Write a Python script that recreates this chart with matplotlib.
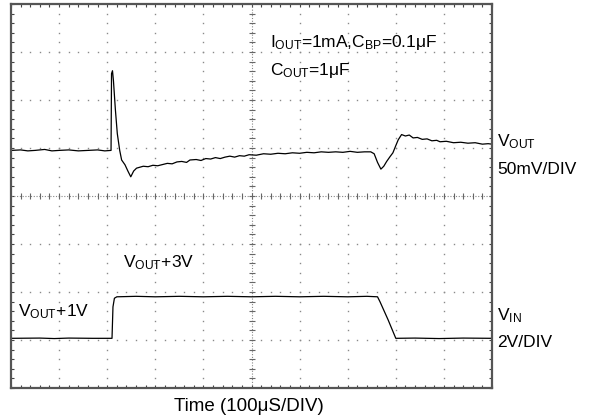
import numpy as np
import matplotlib
matplotlib.use("Agg")
import matplotlib.pyplot as plt
from matplotlib.ticker import MultipleLocator

plt.rcParams['font.family'] = ['Liberation Sans', 'DejaVu Sans']
plt.rcParams['mathtext.fontset'] = 'custom'
plt.rcParams['mathtext.rm'] = 'Liberation Sans'
plt.rcParams['mathtext.it'] = 'Liberation Sans:italic'
plt.rcParams['mathtext.bf'] = 'Liberation Sans:bold'

# ---- data (time in divisions, level in divisions from bottom of screen) ----
vout_t = [0.00, 0.20, 0.35, 0.50, 0.70, 0.85, 1.00, 1.20, 1.40, 1.60, 1.80, 1.95,
          2.08, 2.09, 2.11, 2.13, 2.17, 2.21, 2.26, 2.30, 2.37, 2.43, 2.49, 2.55,
          2.61, 2.68, 2.75, 2.85, 2.95, 3.05, 3.13, 3.25, 3.35, 3.45, 3.55, 3.65,
          3.72, 3.85, 3.95, 4.05, 4.15, 4.25, 4.35, 4.45, 4.55, 4.65, 4.75, 4.85,
          4.95, 5.10, 5.25, 5.40, 5.55, 5.70, 5.85, 6.00, 6.15, 6.30, 6.45, 6.60,
          6.75, 6.90, 7.05, 7.20, 7.35, 7.48, 7.55, 7.62, 7.69, 7.75, 7.81, 7.88,
          7.94, 8.00, 8.05, 8.12, 8.20, 8.28, 8.36, 8.45, 8.55, 8.65, 8.75, 8.85,
          8.92, 9.05, 9.20, 9.35, 9.50, 9.65, 9.80, 9.92, 10.00]
vout_v = [4.95, 4.96, 4.94, 4.95, 4.97, 4.94, 4.95, 4.96, 4.94, 4.95, 4.96, 4.94,
          4.95, 6.55, 6.61, 6.40, 5.80, 5.30, 4.95, 4.75, 4.65, 4.52, 4.40, 4.52,
          4.58, 4.60, 4.62, 4.61, 4.64, 4.63, 4.65, 4.68, 4.67, 4.71, 4.72, 4.70,
          4.75, 4.76, 4.74, 4.78, 4.77, 4.80, 4.78, 4.81, 4.83, 4.81, 4.84, 4.83,
          4.86, 4.85, 4.88, 4.87, 4.89, 4.88, 4.90, 4.89, 4.91, 4.90, 4.92, 4.91,
          4.92, 4.91, 4.93, 4.91, 4.92, 4.92, 4.88, 4.70, 4.56, 4.62, 4.72, 4.82,
          4.90, 5.05, 5.17, 5.28, 5.25, 5.27, 5.21, 5.22, 5.18, 5.19, 5.15, 5.16,
          5.13, 5.14, 5.11, 5.12, 5.10, 5.11, 5.08, 5.09, 5.08]

vin_t = [0.00, 0.60, 0.90, 1.20, 1.70, 2.10, 2.12, 2.15, 2.20, 2.60, 3.00, 3.50,
         4.00, 4.50, 5.00, 5.50, 6.00, 6.50, 7.00, 7.40, 7.62, 7.67, 7.84, 8.00,
         8.40, 8.90, 9.40, 10.00]
vin_v = [1.035, 1.040, 1.030, 1.040, 1.035, 1.035, 1.69, 1.87, 1.90, 1.91, 1.90, 1.91,
         1.90, 1.91, 1.90, 1.91, 1.90, 1.91, 1.90, 1.91, 1.90, 1.80, 1.42, 1.035,
         1.040, 1.030, 1.040, 1.035]

W, H = 590, 419
fig = plt.figure(figsize=(W / 100, H / 100), dpi=100)
L, R, T, B = 11, 492, 4, 388
ax = fig.add_axes([L / W, 1 - B / H, (R - L) / W, (B - T) / H])
ax.set_xlim(0, 10)
ax.set_ylim(0, 8)

# frame & ticks
for s in ax.spines.values():
    s.set_color('#555555')
    s.set_linewidth(1.6)
ax.xaxis.set_major_locator(MultipleLocator(1))
ax.xaxis.set_minor_locator(MultipleLocator(0.2))
ax.yaxis.set_major_locator(MultipleLocator(1))
ax.yaxis.set_minor_locator(MultipleLocator(0.2))
ax.tick_params(which='both', direction='in', top=True, right=True,
               labelbottom=False, labelleft=False, length=2.5, width=0.8,
               color='#444444')

# dotted graticule
gc = '#8a8a8a'
pts_y = np.arange(0.2, 8.0, 0.2)
pts_x = np.arange(0.2, 10.0, 0.2)
for k in range(1, 10):
    if k == 5:
        continue
    ax.plot(np.full(len(pts_y), k), pts_y, ls='none', marker='s', ms=1.0,
            mew=0, color=gc)
for k in range(1, 8):
    if k == 4:
        continue
    ax.plot(pts_x, np.full(len(pts_x), k), ls='none', marker='s', ms=1.0,
            mew=0, color=gc)
# centre cross-hair
ax.plot([5, 5], [0, 8], ls=(0, (1, 1.5)), lw=0.8, color='#888888')
ax.plot([0, 10], [4, 4], ls=(0, (1, 1.5)), lw=0.8, color='#888888')
ax.plot(np.full(len(pts_y), 5), pts_y, ls='none', marker='_', ms=4, mew=0.8,
        color='#666666')
ax.plot(pts_x, np.full(len(pts_x), 4), ls='none', marker='|', ms=4, mew=0.8,
        color='#666666')

# traces
ax.plot(vout_t, vout_v, color='black', lw=0.9)
ax.plot(vin_t, vin_v, color='black', lw=0.9)

fs = 12.5
ax.text(5.38, 7.10, r'I$_{\mathrm{OUT}}$=1mA,C$_{\mathrm{BP}}$=0.1μF', fontsize=fs,
        va='baseline', ha='left')
ax.text(5.38, 6.52, r'C$_{\mathrm{OUT}}$=1μF', fontsize=fs, va='baseline', ha='left')
ax.text(2.32, 2.52, r'V$_{\mathrm{OUT}}$+3V', fontsize=fs, va='baseline', ha='left')
ax.text(0.15, 1.50, r'V$_{\mathrm{OUT}}$+1V', fontsize=fs, va='baseline', ha='left')

fig.text(497 / W, 1 - 146.7 / H, r'V$_{\mathrm{OUT}}$', fontsize=fs, va='baseline', ha='left')
fig.text(497 / W, 1 - 174 / H, '50mV/DIV', fontsize=fs, va='baseline', ha='left')
fig.text(497 / W, 1 - 320.7 / H, r'V$_{\mathrm{IN}}$', fontsize=fs, va='baseline', ha='left')
fig.text(497 / W, 1 - 347.3 / H, '2V/DIV', fontsize=fs, va='baseline', ha='left')
fig.text(249 / W, 1 - 411 / H, 'Time (100μS/DIV)', fontsize=13.5, va='baseline', ha='center')

fig.savefig('out.png', dpi=100)
